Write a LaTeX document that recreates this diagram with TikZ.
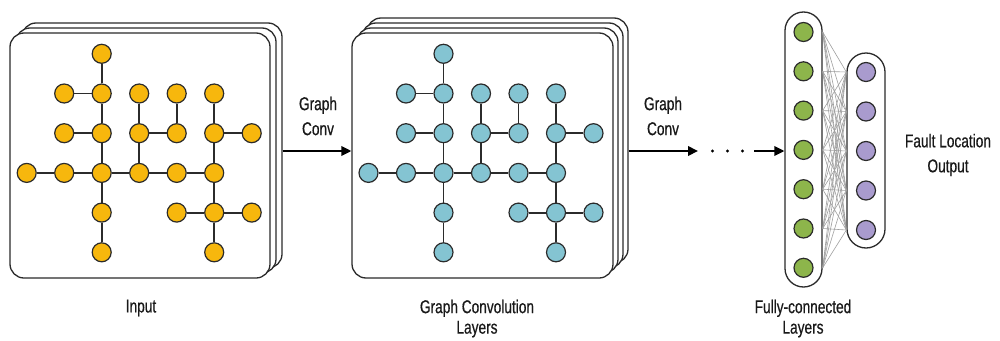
\documentclass[tikz,border=0pt]{standalone}
\usepackage{fontspec}
\setmainfont{Liberation Sans}[FakeStretch=0.74,FakeBold=0.5]
\usetikzlibrary{arrows.meta,calc}
\definecolor{orangeN}{HTML}{F7B70D}
\definecolor{blueN}{HTML}{84C4D2}
\definecolor{greenN}{HTML}{8DB54B}
\definecolor{purpleN}{HTML}{A99BCE}
\definecolor{ink}{HTML}{2B2B2B}
\newcommand{\mygraph}[3]{%
  \foreach \c/\r in {2/0,1/1,2/1,3/1,4/1,5/1,1/2,2/2,3/2,4/2,5/2,6/2,0/3,1/3,2/3,3/3,4/3,5/3,2/4,4/4,5/4,6/4,2/5,5/5}
    \node[gnode, fill=#3] (#1-\c-\r) at ({#2+26.7+37.5*\c},{53.8+39.7*\r}) {};
  \foreach \a/\b in {2-0/2-1,1-1/2-1,2-1/2-2,1-2/2-2,2-2/2-3,2-3/2-4,2-4/2-5,
    3-1/3-2,3-2/4-2,4-1/4-2,3-2/3-3,
    5-1/5-2,5-2/6-2,5-2/5-3,5-3/5-4,5-4/5-5,4-4/5-4,5-4/6-4,
    0-3/1-3,1-3/2-3,2-3/3-3,3-3/4-3,4-3/5-3}
    \draw[gedge] (#1-\a) -- (#1-\b);
}
\begin{document}
\begin{tikzpicture}[x=1pt,y=-1pt,
  card/.style={draw=ink, line width=1.3pt, fill=white, rounded corners=14pt, minimum height=245pt, inner sep=0pt},
  gnode/.style={circle, draw=ink, line width=1.2pt, minimum size=19pt, inner sep=0pt},
  gedge/.style={draw=ink, line width=1.8pt},
  lbl/.style={font=\fontsize{18.5}{25}\selectfont, text=black!90, align=center, inner sep=0pt},
  blbl/.style={font=\fontsize{18.5}{20.5}\selectfont, text=black!90, align=center, inner sep=0pt, anchor=north},
  arr/.style={draw=black, line width=2pt, -{Triangle[length=10pt,width=9.5pt]}},
  conn/.style={draw=gray!75, line width=0.6pt},
  capsule/.style={draw=ink, line width=1.3pt, fill=white, inner sep=0pt}
]
\useasboundingbox (0,0) rectangle (1000,340);
\fill[white] (0,0) rectangle (1000,340);

% Panel 1 (input)
\node[card, minimum width=260pt] (p1c) at (152,145.5) {};
\node[card, minimum width=260pt] (p1b) at (146,150.5) {};
\node[card, minimum width=260pt] (p1a) at (140,155.5) {};
\mygraph{a}{0}{orangeN}

% Panel 2 (graph conv layers)
\node[card, minimum width=261pt] (p2d) at (497.5,140.5) {};
\node[card, minimum width=261pt] (p2c) at (492.5,145.5) {};
\node[card, minimum width=261pt] (p2b) at (487.5,150.5) {};
\node[card, minimum width=261pt] (p2a) at (482.5,155.5) {};
\mygraph{b}{341.8}{blueN}

% FC layers
\node[capsule, rounded corners=18.5pt, minimum width=37pt, minimum height=275pt] (fc) at (803.5,149.5) {};
\node[capsule, rounded corners=19pt, minimum width=38pt, minimum height=195pt] (out) at (866,150.5) {};
\foreach \k in {1,...,7}
  \node[gnode, fill=greenN] (g\k) at (803.5,{32+39.3*(\k-1)}) {};
\foreach \k in {1,...,5}
  \node[gnode, fill=purpleN] (q\k) at (866,{72+39.5*(\k-1)}) {};
\foreach \i in {1,...,7}
  \foreach \j in {1,...,5}
    \draw[conn] (fc.east |- g\i) -- (out.west |- q\j);

% arrows
\coordinate (mid) at (0,151);
\coordinate (a2end) at (698,151);
\coordinate (a3start) at (754,151);
\draw[arr] (p1c.east |- mid) -- (p2a.west |- mid);
\draw[arr] (p2d.east |- mid) -- (a2end);
\draw[arr] (a3start) -- (fc.west |- mid);
\foreach \x [count=\n] in {712.5,727.5,742.5}
  \fill[black] (\x,151) circle (1.7pt) coordinate (dot\n);

% labels
\node[lbl] (gc1) at (318,116) {Graph\\Conv};
\node[lbl] (gc2) at (663,116) {Graph\\Conv};
\node[blbl] (lin) at (141,299.5) {Input};
\node[blbl] (lgc) at (477,299.5) {Graph Convolution\\Layers};
\node[blbl] (lfc) at (803,299.5) {Fully-connected\\Layers};
\node[lbl] (lout) at (948,155) {Fault Location\\Output};
\end{tikzpicture}
\end{document}
